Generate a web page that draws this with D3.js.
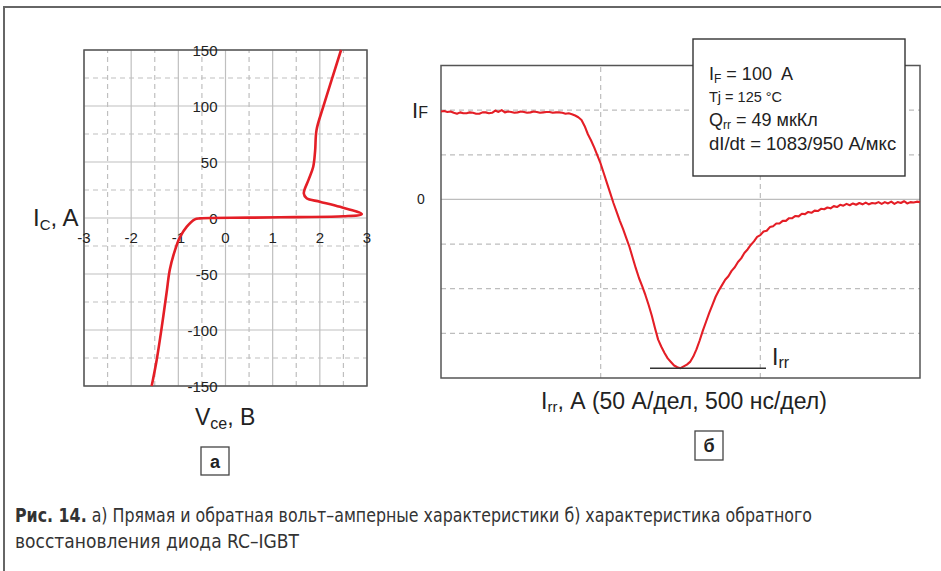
<!DOCTYPE html>
<html><head><meta charset="utf-8">
<script src="https://cdn.jsdelivr.net/npm/d3@7"></script>
<style>
body{margin:0;background:#fff;}
svg text{font-family:"Liberation Sans",Arial,sans-serif;white-space:pre;}
</style></head>
<body>
<svg id="c" width="941" height="571"></svg>
<script>
// ---- Data: left chart (forward/reverse V-I characteristic) ----
const vceTicks = [-3,-2,-1,0,1,2,3];
const icTicks = [-150,-100,-50,0,50,100,150];
const vce = [-1.565,-1.46,-1.35,-1.25,-1.18,-1.07,-0.96,-0.82,-0.65,-0.54,0.5,1.5,2.5,2.89,2.43,2.0,1.72,1.66,1.76,1.86,1.9,1.93,2.07,2.45];
const ic  = [-150,-127,-97,-67,-46,-28.6,-16.7,-7.7,-1.2,-0.3,0.3,0.8,1.5,3.5,10,14.6,17.6,22,34,45.8,60,78.6,99,150];

// ---- Data: right chart (reverse recovery), sampled every 10 ns, current in A ----
const timeStartNs = 0, timeStepNs = 10;
const current = [
98.5,99,98,98.5,97,96,97.5,96.5,96.5,97.5,
97,96,96,97.5,97.5,96.5,97,99.5,98,100,
97.5,98.5,98,97,97.5,98.5,98,97,97.5,98.5,
98,97,97.5,98,98,97,97.5,97.5,97,96,
96.5,95.5,94,92,89,82,73,66,58,49,
40,29,18,7,-4,-14,-24,-33,-43,-53,
-65,-77,-88,-97,-107,-118,-130,-144,-157,-165,
-172,-178,-182,-186,-188,-189,-187,-185,-182,-176,
-168,-158,-147,-137,-127,-118,-109,-102,-96,-90,
-86,-80,-76,-70,-66,-60,-56,-51,-47,-42,
-40,-36,-35,-31,-30,-27,-27,-24,-24,-21,
-21,-18.5,-19,-16,-16.5,-14,-15,-12.5,-13,-10.5,
-11,-9,-10,-7.5,-8.5,-6,-7,-5,-6.5,-4.5,
-6,-4,-5.5,-3.5,-5.5,-4,-4.5,-3,-5,-3,
-4.5,-2.5,-5,-3,-4,-2,-4.5,-3,-3.5,-2.5,
-3];
const timeNs = current.map((d,i)=>timeStartNs + i*timeStepNs);
const irrPeak = -189;
const ifValue = 100;

const svg = d3.select("#c");
const RED = "#e41e26";

// outer frame
svg.append("line").attr("x1",4).attr("x2",941).attr("y1",7).attr("y2",7).attr("stroke","#666").attr("stroke-width",2);
svg.append("line").attr("x1",4).attr("x2",4).attr("y1",6).attr("y2",571).attr("stroke","#666").attr("stroke-width",2);

// ===== Left chart =====
const xL = d3.scaleLinear().domain([-3,3]).range([84,367]);
const yL = d3.scaleLinear().domain([-150,150]).range([386,50]);
const gL = svg.append("g");
d3.range(-3,3.01,0.5).forEach(v=>{
  const solid = Math.abs(v-Math.round(v))<1e-6;
  gL.append("line").attr("x1",xL(v)).attr("x2",xL(v)).attr("y1",yL(-150)).attr("y2",yL(150))
    .attr("stroke","#bfbfbf").attr("stroke-width",1.2).attr("stroke-dasharray",solid?null:"5,4");
});
d3.range(-150,150.01,25).forEach(v=>{
  const solid = v%50===0;
  gL.append("line").attr("x1",xL(-3)).attr("x2",xL(3)).attr("y1",yL(v)).attr("y2",yL(v))
    .attr("stroke","#bfbfbf").attr("stroke-width",1.2).attr("stroke-dasharray",solid?null:"5,4");
});
gL.append("rect").attr("x",xL(-3)).attr("y",yL(150)).attr("width",xL(3)-xL(-3)).attr("height",yL(-150)-yL(150))
  .attr("fill","none").attr("stroke","#555").attr("stroke-width",1.5);
gL.selectAll(".xt").data(vceTicks).enter().append("text")
  .attr("x",d=>xL(d)).attr("y",243).attr("text-anchor","middle").attr("font-size",15).attr("fill","#222").text(d=>d);
gL.selectAll(".yt").data(icTicks).enter().append("text")
  .attr("x",xL(0)-8).attr("y",d=>yL(d)+5.5).attr("text-anchor","end").attr("font-size",15).attr("fill","#222").text(d=>d);
const lineL = d3.line().x((d,i)=>xL(vce[i])).y((d,i)=>yL(ic[i])).curve(d3.curveCatmullRom.alpha(0.5));
gL.append("path").attr("d",lineL(vce)).attr("fill","none").attr("stroke",RED).attr("stroke-width",2.6).attr("stroke-linejoin","round");
const icLab = svg.append("text").attr("x",33).attr("y",226).attr("font-size",24).attr("fill","#222");
icLab.append("tspan").text("I");
icLab.append("tspan").attr("font-size",15).attr("dy",4).text("C");
icLab.append("tspan").attr("dy",-4).text(", A");
const vLab = svg.append("text").attr("x",195).attr("y",425).attr("font-size",23).attr("fill","#222");
vLab.append("tspan").text("V");
vLab.append("tspan").attr("font-size",16).attr("dy",4).text("ce");
vLab.append("tspan").attr("dy",-4).text(", B");
svg.append("rect").attr("x",201).attr("y",447).attr("width",28).attr("height",28).attr("fill","#fff").attr("stroke","#444").attr("stroke-width",1.3);
svg.append("text").attr("x",215).attr("y",468).attr("text-anchor","middle").attr("font-size",18).attr("font-weight","bold").attr("fill","#222").text("а");

// ===== Right chart =====
const xR = d3.scaleLinear().domain([0,1500]).range([441,920]);
const yR = d3.scaleLinear().domain([-200,150]).range([378,65.5]);
const gR = svg.append("g");
[500,1000].forEach(t=>{
  gR.append("line").attr("x1",xR(t)).attr("x2",xR(t)).attr("y1",yR(-200)).attr("y2",yR(150))
    .attr("stroke","#bdbdbd").attr("stroke-width",1.2).attr("stroke-dasharray","5,4");
});
d3.range(-150,101,50).forEach(v=>{
  gR.append("line").attr("x1",xR(0)).attr("x2",xR(1500)).attr("y1",yR(v)).attr("y2",yR(v))
    .attr("stroke","#bdbdbd").attr("stroke-width",1.2).attr("stroke-dasharray",v===0?null:"5,4");
});
gR.append("rect").attr("x",xR(0)).attr("y",yR(150)).attr("width",xR(1500)-xR(0)).attr("height",yR(-200)-yR(150))
  .attr("fill","none").attr("stroke","#555").attr("stroke-width",1.5);
const lineR = d3.line().x((d,i)=>xR(timeNs[i])).y((d,i)=>yR(current[i]));
gR.append("path").attr("d",lineR(current)).attr("fill","none").attr("stroke",RED).attr("stroke-width",2.1).attr("stroke-linejoin","round");
// Irr line
gR.append("line").attr("x1",650).attr("x2",766).attr("y1",yR(irrPeak)).attr("y2",yR(irrPeak)).attr("stroke","#333").attr("stroke-width",1.6);
const irrLab = svg.append("text").attr("x",772).attr("y",365).attr("font-size",23).attr("fill","#222");
irrLab.append("tspan").text("I");
irrLab.append("tspan").attr("font-size",16).attr("dy",3).text("rr");
svg.append("text").attr("x",421).attr("y",yR(0)+5).attr("text-anchor","middle").attr("font-size",14).attr("fill","#222").text("0");
const ifLab = svg.append("text").attr("x",412).attr("y",118).attr("font-size",22).attr("fill","#222");
ifLab.append("tspan").text("I");
ifLab.append("tspan").attr("font-size",16).attr("dy",0).text("F");
// info box
svg.append("rect").attr("x",693).attr("y",39).attr("width",212).attr("height",137).attr("fill","#fff").attr("stroke","#333").attr("stroke-width",1.4);
const t1 = svg.append("text").attr("x",709).attr("y",80).attr("font-size",18).attr("fill","#222");
t1.append("tspan").text("I");
t1.append("tspan").attr("font-size",12).attr("dy",3).text("F");
t1.append("tspan").attr("dy",-3).text(" = " + ifValue + "  A");
svg.append("text").attr("x",709).attr("y",102).attr("font-size",14.5).attr("fill","#222").text("Tj = 125 °C");
const t3 = svg.append("text").attr("x",709).attr("y",126).attr("font-size",18).attr("fill","#222");
t3.append("tspan").text("Q");
t3.append("tspan").attr("font-size",12).attr("dy",3).text("rr");
t3.append("tspan").attr("dy",-3).text(" = 49 мкКл");
svg.append("text").attr("x",709).attr("y",150).attr("font-size",18.5).attr("fill","#222").text("dI/dt = 1083/950 А/мкс");
// x axis label
const xl = svg.append("text").attr("x",541).attr("y",409).attr("font-size",23).attr("fill","#222");
xl.append("tspan").text("I");
xl.append("tspan").attr("font-size",15).attr("dy",3).text("rr");
xl.append("tspan").attr("dy",-3).text(", А (50 А/дел, 500 нс/дел)");
svg.append("rect").attr("x",695).attr("y",431).attr("width",28).attr("height",29).attr("fill","#fff").attr("stroke","#444").attr("stroke-width",1.3);
svg.append("text").attr("x",709).attr("y",452).attr("text-anchor","middle").attr("font-size",18).attr("font-weight","bold").attr("fill","#222").text("б");

// caption
const capFont = "'Liberation Sans Narrow','DejaVu Sans Condensed',sans-serif";
const cap1 = svg.append("text").attr("x",15).attr("y",522).attr("font-size",19).attr("fill","#333")
  .attr("textLength",797).attr("lengthAdjust","spacingAndGlyphs").style("font-family",capFont);
cap1.append("tspan").attr("font-weight","bold").text("Рис. 14.");
cap1.append("tspan").text(" а) Прямая и обратная вольт–амперные характеристики б) характеристика обратного");
svg.append("text").attr("x",15).attr("y",548).attr("font-size",19).attr("fill","#333")
  .attr("textLength",284).attr("lengthAdjust","spacingAndGlyphs").style("font-family",capFont)
  .text("восстановления диода RC–IGBT");
</script>
</body></html>
